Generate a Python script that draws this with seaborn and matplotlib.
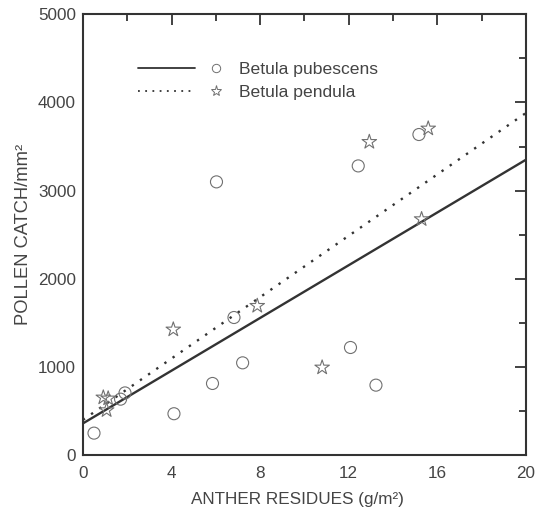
import matplotlib
matplotlib.use("Agg")
import matplotlib.pyplot as plt
from matplotlib.lines import Line2D
import seaborn as sns
import pandas as pd

# ---- data ----
pubescens_x = [0.50, 1.70, 1.90, 4.11, 5.85, 6.03, 6.82, 7.21, 12.08, 12.43, 13.23, 15.17]
pubescens_y = [250, 635, 706, 470, 813, 3099, 1561, 1047, 1221, 3280, 794, 3636]
pendula_x = [0.92, 1.07, 1.14, 4.08, 7.87, 10.80, 12.93, 15.29, 15.59]
pendula_y = [654, 510, 643, 1425, 1693, 994, 3552, 2676, 3704]

fit_x = [0, 20]
pubescens_fit = [360, 3350]
pendula_fit = [400, 3880]

species = ["Betula pubescens", "Betula pendula"]
x_ticks = [0, 4, 8, 12, 16, 20]
y_ticks = [0, 1000, 2000, 3000, 4000, 5000]

sns.set_theme(style="white")
plt.rcParams["font.family"] = ["Liberation Sans", "DejaVu Sans"]

TEXT = "#444444"
LINE = "#333333"
MARK = "#707070"

pts = pd.DataFrame({
    "x": pubescens_x + pendula_x,
    "y": pubescens_y + pendula_y,
    "species": [species[0]] * len(pubescens_x) + [species[1]] * len(pendula_x),
})
fits = pd.DataFrame({
    "x": fit_x + fit_x,
    "y": pubescens_fit + pendula_fit,
    "species": [species[0]] * 2 + [species[1]] * 2,
})

fig = plt.figure(figsize=(5.35, 5.08), dpi=100)
ax = fig.add_axes([0.155, 0.104, 0.828, 0.868])

sns.lineplot(data=fits, x="x", y="y", hue="species", style="species",
             palette={species[0]: LINE, species[1]: LINE},
             dashes={species[0]: "", species[1]: (1.0, 3.2)},
             linewidth=1.7, legend=False, ax=ax)
sns.scatterplot(data=pts, x="x", y="y", style="species",
                markers={species[0]: "o", species[1]: "*"},
                size="species", sizes={species[0]: 75, species[1]: 120},
                facecolor="none", edgecolor=MARK, linewidth=0.8,
                legend=False, ax=ax, zorder=3)
for c in ax.collections:
    c.set_facecolor("none")
    c.set_edgecolor(MARK)

ax.set_xlim(0, 20)
ax.set_ylim(0, 5000)
ax.set_xticks(x_ticks)
ax.set_yticks(y_ticks)
ax.set_xticks([2, 6, 10, 14, 18], minor=True)
ax.set_yticks([500, 1500, 2500, 3500, 4500], minor=True)
ax.tick_params(which="both", direction="in", top=True, right=True,
               color=LINE, width=1.3, labelcolor=TEXT, labelsize=12.3)
ax.tick_params(which="major", length=8)
ax.tick_params(which="minor", length=5)
ax.tick_params(axis="x", pad=8)
ax.tick_params(axis="y", pad=5)
for s in ax.spines.values():
    s.set_color(LINE)
    s.set_linewidth(1.5)

ax.set_xlabel("ANTHER RESIDUES (g/m²)", fontsize=12.3, color=TEXT, labelpad=7)
ax.set_ylabel("POLLEN CATCH/mm²", fontsize=13.2, color=TEXT, labelpad=4)
ax.xaxis.set_label_coords(0.484, -0.083)

# legend: lines column and markers+labels column
line_handles = [Line2D([], [], color=LINE, lw=1.3, linestyle="-"),
                Line2D([], [], color=LINE, lw=1.3, linestyle=(0, (1, 3)))]
leg1 = ax.legend(line_handles, ["", ""], loc="upper left",
                 bbox_to_anchor=(0.124, 0.893), frameon=False,
                 handlelength=3.26, handletextpad=0, fontsize=12.6,
                 borderpad=0, borderaxespad=0, labelspacing=0.45)
ax.add_artist(leg1)
mark_handles = [Line2D([], [], marker="o", color=MARK, mfc="none", ls="none",
                       markersize=6, markeredgewidth=0.7),
                Line2D([], [], marker="*", color=MARK, mfc="none", ls="none",
                       markersize=8, markeredgewidth=0.7)]
leg2 = ax.legend(mark_handles, species, loc="upper left",
                 bbox_to_anchor=(0.280, 0.893), frameon=False,
                 handlelength=1.0, handletextpad=0.83, fontsize=12.6,
                 borderpad=0, borderaxespad=0, labelspacing=0.45)
for t in leg2.get_texts():
    t.set_color(TEXT)

fig.savefig("out.png", dpi=100)
